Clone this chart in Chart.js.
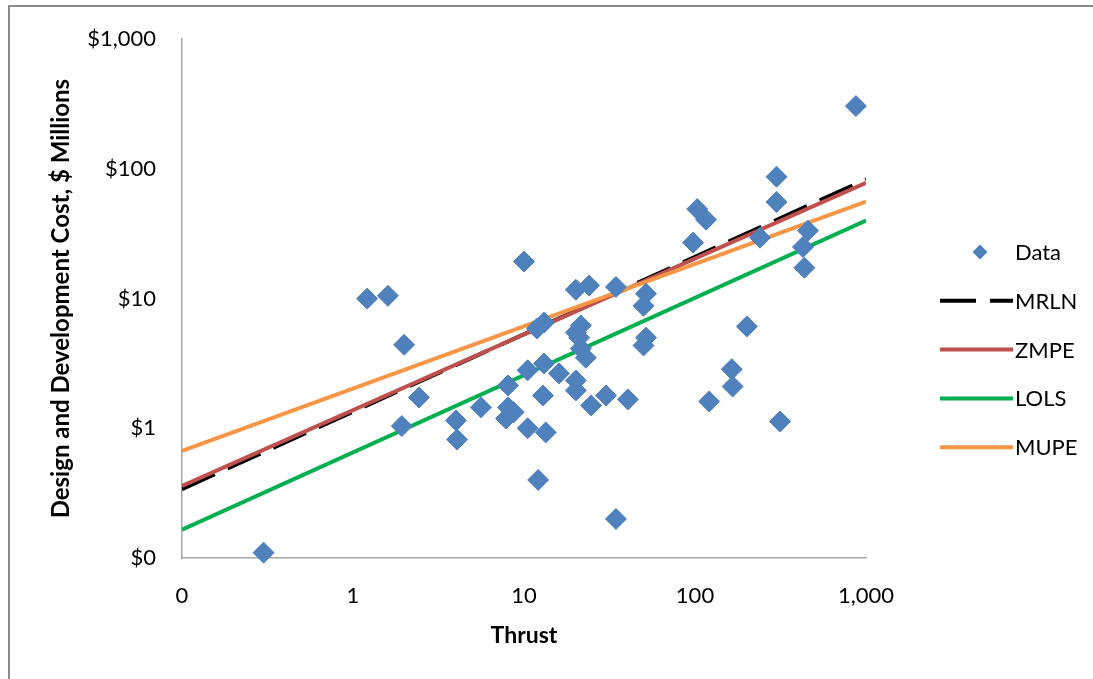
<!DOCTYPE html>
<html lang="en">
<head>
<meta charset="utf-8">
<title>Design and Development Cost vs Thrust</title>
<script src="https://cdn.jsdelivr.net/npm/chart.js@4.4.1/dist/chart.umd.min.js"></script>
<style>
  html, body { margin: 0; padding: 0; background: #fff; overflow: hidden; }
  #wrap { position: relative; width: 1093px; height: 679px; overflow: hidden; }
  #frame { position: absolute; left: 8px; top: 5px; width: 1200px; height: 800px; border: 2px solid #8c8c8c; }
  #chart { position: absolute; left: 0; top: 0; }
</style>
</head>
<body>
<div id="wrap">
  <div id="frame"></div>
  <canvas id="chart" width="1093" height="679"></canvas>
</div>
<script>
// Observed engines: thrust vs design and development cost ($ millions)
const thrust = [
  0.30, 1.21, 1.6, 1.99, 2.43, 1.93, 4.0, 4.06, 5.6, 8.06,
  8.06, 8.7, 7.85, 10.0, 10.5, 10.5, 11.9, 13.1, 13.1, 12.9,
  13.4, 12.1, 16.0, 20.1, 21.5, 20.1, 21.0, 21.5, 23.0, 20.1,
  20.1, 24.7, 24.0, 30.2, 34.5, 34.5, 40.5, 51.7, 50.0, 51.7,
  50.0, 97.4, 103, 116, 121, 164, 166, 201, 240, 300,
  300, 314, 428, 436, 458, 873,
]
const cost = [
  0.11, 10.0, 10.5, 4.4, 1.73, 1.04, 1.15, 0.82, 1.45, 2.14,
  1.45, 1.33, 1.19, 19.3, 2.8, 1.0, 5.88, 6.54, 3.16, 1.79,
  0.93, 0.40, 2.65, 11.7, 6.2, 5.48, 5.0, 4.12, 3.5, 2.34,
  1.96, 1.5, 12.6, 1.79, 12.3, 0.2, 1.67, 10.9, 8.8, 5.0,
  4.35, 27, 49, 40.6, 1.61, 2.85, 2.1, 6.1, 29.5, 87,
  55.6, 1.13, 25, 17.3, 33.4, 305,
]

// Fitted cost curves, evaluated at the ends of the thrust axis
const fitThrust = [0.1, 1000]
const mrln = [0.34, 83]
const zmpe = [0.36, 78]
const lols = [0.165, 40]
const mupe = [0.67, 56]

// Axis ticks
const xTicks = [0.1, 1, 10, 100, 1000]
const xTickLabels = ["0", "1", "10", "100", "1,000"]
const yTicks = [0.1, 1, 10, 100, 1000]
const yTickLabels = ["$0", "$1", "$10", "$100", "$1,000"]

const FONT = "Lato, 'Open Sans', sans-serif"

/**
 * Pairs two arrays into {x, y} points
 */
function toPoints(xs, ys) {
  return xs.map((x, i) => ({ x: x, y: ys[i] }))
}

/**
 * Builds a straight fitted line dataset
 */
function fitLine(label, values, color, order, dash) {
  return {
    label: label,
    data: toPoints(fitThrust, values),
    showLine: true,
    borderColor: color,
    backgroundColor: color,
    borderWidth: 4,
    borderDash: dash || [],
    pointRadius: 0,
    order: order,
  }
}

// Legend drawn at the right of the plot, in the picture's order
const sideLegend = {
  id: "sideLegend",
  afterDraw(chart) {
    const ctx = chart.ctx
    const names = ["Data", "MRLN", "ZMPE", "LOLS", "MUPE"]
    const top = 252
    const step = 48.8
    ctx.save()
    ctx.font = "22px " + FONT
    ctx.textBaseline = "middle"
    ctx.fillStyle = "#000"
    names.forEach((name, i) => {
      const ds = chart.data.datasets.find((d) => d.label === name)
      const y = top + i * step
      if (name === "Data") {
        ctx.beginPath()
        ctx.moveTo(980, y - 7.5)
        ctx.lineTo(987.5, y)
        ctx.lineTo(980, y + 7.5)
        ctx.lineTo(972.5, y)
        ctx.closePath()
        ctx.fillStyle = ds.backgroundColor
        ctx.fill()
      } else {
        ctx.beginPath()
        ctx.setLineDash(ds.borderDash)
        ctx.lineWidth = 4
        ctx.strokeStyle = ds.borderColor
        ctx.moveTo(940, y)
        ctx.lineTo(1013, y)
        ctx.stroke()
        ctx.setLineDash([])
      }
      ctx.fillStyle = "#000"
      ctx.fillText(name, 1015, y + 1)
    })
    ctx.restore()
  },
}

const chart = new Chart(document.getElementById("chart"), {
  type: "scatter",
  data: {
    datasets: [
      {
        label: "Data",
        data: toPoints(thrust, cost),
        pointStyle: "rectRot",
        pointRadius: 10.5,
        pointHoverRadius: 10.5,
        backgroundColor: "#4f81bd",
        borderColor: "#4f81bd",
        borderWidth: 1,
        clip: false,
        order: 0,
      },
      fitLine("MRLN", mrln, "#000000", 4, [36, 14]),
      fitLine("ZMPE", zmpe, "#c0504d", 3),
      fitLine("LOLS", lols, "#00b050", 2),
      fitLine("MUPE", mupe, "#f79646", 1),
    ],
  },
  options: {
    responsive: false,
    animation: false,
    layout: {
      padding: { left: 9, top: 37, right: 227, bottom: 0 },
    },
    plugins: {
      legend: { display: false },
      tooltip: { enabled: false },
    },
    scales: {
      x: {
        type: "logarithmic",
        min: 0.1,
        max: 1000,
        afterBuildTicks: (scale) => {
          scale.ticks = xTicks.map((v) => ({ value: v }))
        },
        afterFit: (scale) => {
          scale.height = 679 - 558
        },
        grid: { display: false, drawTicks: false },
        border: { display: true, color: "#a6a6a6", width: 1.5 },
        ticks: {
          padding: 25,
          color: "#000",
          font: { family: FONT, size: 22 },
          maxRotation: 0,
          autoSkip: false,
          callback: (value, i) => xTickLabels[i],
        },
        title: {
          display: true,
          text: "Thrust",
          color: "#000",
          font: { family: FONT, size: 23, weight: "bold" },
          padding: { top: 0, bottom: 30 },
        },
      },
      y: {
        type: "logarithmic",
        min: 0.1,
        max: 1000,
        afterBuildTicks: (scale) => {
          scale.ticks = yTicks.map((v) => ({ value: v }))
        },
        afterFit: (scale) => {
          scale.width = 182 - 9
        },
        grid: { display: false, drawTicks: false },
        border: { display: true, color: "#a6a6a6", width: 1.5 },
        ticks: {
          padding: 26,
          color: "#000",
          font: { family: FONT, size: 22 },
          autoSkip: false,
          callback: (value, i) => yTickLabels[i],
        },
        title: {
          display: true,
          text: "Design and Development Cost, $ Millions",
          color: "#000",
          font: { family: FONT, size: 24, weight: "bold" },
          padding: { top: 38, bottom: 0 },
        },
      },
    },
  },
  plugins: [sideLegend],
})
</script>
</body>
</html>
